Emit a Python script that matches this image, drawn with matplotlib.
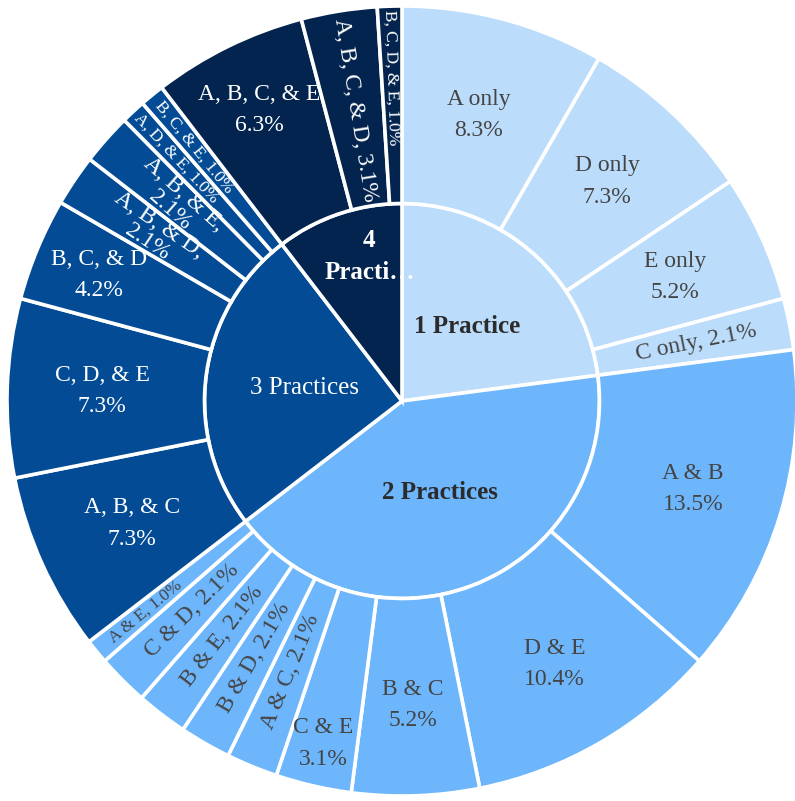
import matplotlib
matplotlib.use("Agg")
import matplotlib.pyplot as plt
import numpy as np

# ---- data -------------------------------------------------------------
groups = ["1 Practice", "2 Practices", "3 Practices", "4 Practices"]
group_text = ["1 Practice", "2 Practices", "3 Practices", "4\nPracti…"]

combos = [
    "A only", "D only", "E only", "C only",
    "A & B", "D & E", "B & C", "C & E", "A & C", "B & D", "B & E", "C & D", "A & E",
    "A, B, & C", "C, D, & E", "B, C, & D", "A, B, & D", "A, B, & E", "A, D, & E", "B, C, & E",
    "A, B, C, & E", "A, B, C, & D", "B, C, D, & E",
]
shares = [
    8.3, 7.3, 5.2, 2.1,
    13.5, 10.4, 5.2, 3.1, 2.1, 2.1, 2.1, 2.1, 1.0,
    7.3, 7.3, 4.2, 2.1, 2.1, 1.0, 1.0,
    6.3, 3.1, 1.0,
]
parent = [
    0, 0, 0, 0,
    1, 1, 1, 1, 1, 1, 1, 1, 1,
    2, 2, 2, 2, 2, 2, 2,
    3, 3, 3,
]

# ---- styling ----------------------------------------------------------
group_colors = ["#BBDDFB", "#6DB6FC", "#034C95", "#02244E"]
group_text_colors = ["#2b2b2b", "#2b2b2b", "white", "white"]
group_bold = [True, True, False, True]
group_label_r = [0.25, 0.25, 0.25, 0.375]
group_label_frac = [0.5, 0.5, 0.5, 0.66]   # position along each wedge's sweep
leaf_text_colors = ["#444444", "#444444", "white", "white"]

# label layout: h = horizontal two lines, r = radial one line, r2 = radial two lines
layout = [
    "h", "h", "h", "r",
    "h", "h", "h", "h", "r", "r", "r", "r", "r",
    "h", "h", "h", "r2", "r2", "r", "r",
    "h", "r", "r",
]
# radial distance of each outer label (fraction of the outer radius)
label_r = [
    0.75, 0.76, 0.76, 0.76,
    0.77, 0.77, 0.77, 0.89, 0.74, 0.75, 0.75, 0.75, 0.84,
    0.75, 0.76, 0.83, 0.76, 0.76, 0.84, 0.83,
    0.82, 0.745, 0.82,
]

plt.rcParams["font.family"] = ["Liberation Serif", "DejaVu Serif"]

W, H = 795, 801
cx, cy, R = 402, 401, 395
fig = plt.figure(figsize=(W / 100, H / 100), dpi=100)
ax = fig.add_axes([0, 0, 1, 1])

group_vals = [sum(s for s, p in zip(shares, parent) if p == g) for g in range(len(groups))]
r_in = 0.5
edge = dict(edgecolor="white", linewidth=2.6)

inner, _ = ax.pie(group_vals, radius=r_in, startangle=90, counterclock=False,
                  colors=group_colors, wedgeprops=edge)
outer, _ = ax.pie(shares, radius=1.0, startangle=90, counterclock=False,
                  colors=[group_colors[p] for p in parent],
                  wedgeprops=dict(width=1 - r_in, **edge))

ax.set_aspect("auto")
ax.set_xlim(-cx / R, (W - cx) / R)
ax.set_ylim(-(H - cy) / R, cy / R)
ax.axis("off")

# inner ring labels (wedges run clockwise, so theta2 is the leading edge)
for g, w in enumerate(inner):
    f = group_label_frac[g]
    ang = np.deg2rad(w.theta2 - f * (w.theta2 - w.theta1))
    r = group_label_r[g]
    ax.text(r * np.cos(ang), r * np.sin(ang), group_text[g], ha="center", va="center",
            color=group_text_colors[g], fontsize=18,
            fontweight="bold" if group_bold[g] else "normal", linespacing=1.45)

# outer ring labels
for i, w in enumerate(outer):
    mid_deg = (w.theta1 + w.theta2) / 2
    mid = np.deg2rad(mid_deg)
    pct = f"{shares[i]:.1f}%"
    color = leaf_text_colors[parent[i]]
    fs = 12.5 if shares[i] < 1.5 else 17
    r = label_r[i]
    x, y = r * np.cos(mid), r * np.sin(mid)
    if layout[i] == "h":
        ax.text(x, y, f"{combos[i]}\n{pct}", ha="center", va="center", color=color,
                fontsize=17, linespacing=1.65, multialignment="center")
    else:
        rot = mid_deg % 360
        if 90 < rot < 270:
            rot -= 180
        if rot > 180:
            rot -= 360
        txt = f"{combos[i]}, {pct}" if layout[i] == "r" else f"{combos[i]},\n{pct}"
        ax.text(x, y, txt, ha="center", va="center", color=color, fontsize=fs,
                rotation=rot, rotation_mode="anchor", linespacing=1.0,
                multialignment="center")

fig.savefig("out.png", dpi=100)
